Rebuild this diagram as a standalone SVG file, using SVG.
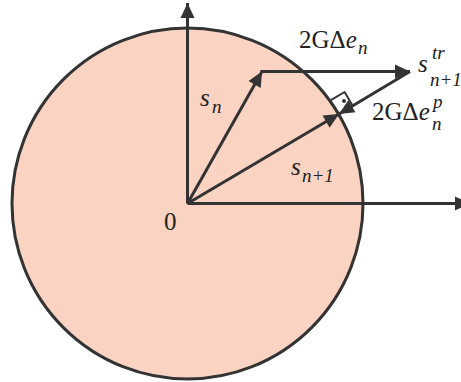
<svg xmlns="http://www.w3.org/2000/svg" width="461" height="382" viewBox="0 0 461 382">
<defs>
<marker id="ah" markerUnits="userSpaceOnUse" markerWidth="15" markerHeight="14" refX="15" refY="7" orient="auto" overflow="visible">
<path d="M0,0 L15,7 L0,14 Z" fill="#333333"/>
</marker>
<style>
.ln{stroke:#333333;stroke-width:3;fill:none}
.t{font-family:"Liberation Serif","Times New Roman",serif;fill:#222222;font-size:25px}
.i{font-style:italic}
.s{font-family:"Liberation Serif","Times New Roman",serif;font-size:19px;font-style:italic}
</style>
</defs>
<rect width="461" height="382" fill="#ffffff"/>
<g id="circle">
<circle cx="187.5" cy="203.5" r="175.5" fill="#fbd3c3" stroke="#333333" stroke-width="3"/>
</g>
<g id="connectors">
<line id="yaxis" class="ln" x1="187.5" y1="203.5" x2="187.5" y2="3" marker-end="url(#ah)"/>
<line id="xaxis" class="ln" x1="187.5" y1="203.5" x2="470" y2="203.5" marker-end="url(#ah)"/>
<line id="sn" class="ln" x1="187.5" y1="203.5" x2="262" y2="71.5" marker-end="url(#ah)"/>
<line id="de" class="ln" x1="260.5" y1="71.5" x2="410" y2="71.5" marker-end="url(#ah)"/>
<line id="dep" class="ln" x1="410" y1="71.5" x2="339" y2="114" marker-end="url(#ah)"/>
<line id="sn1" class="ln" x1="187.5" y1="203.5" x2="339" y2="114" marker-end="url(#ah)"/>
<polyline id="rightangle" points="330.9,100.2 344.6,92 352.8,105.9" fill="none" stroke="#333333" stroke-width="2"/>
<circle cx="344" cy="101" r="2" fill="#333333"/>
</g>
<g id="label-origin"><text class="t" x="164" y="230">0</text></g>
<g id="label-sn"><text class="t"><tspan class="i" x="200" y="106">s</tspan><tspan class="s" x="212" y="113">n</tspan></text></g>
<g id="label-sn1"><text class="t"><tspan class="i" x="291" y="175">s</tspan><tspan class="s" x="302" y="182">n+1</tspan></text></g>
<g id="label-de"><text class="t"><tspan x="299" y="48">2GΔ</tspan><tspan class="i">e</tspan><tspan class="s" x="358" y="54">n</tspan></text></g>
<g id="label-str"><text class="t"><tspan class="i" x="418" y="72">s</tspan><tspan class="s" x="432" y="59">tr</tspan><tspan class="s" x="430" y="86">n+1</tspan></text></g>
<g id="label-dep"><text class="t"><tspan x="372" y="120">2GΔ</tspan><tspan class="i">e</tspan><tspan class="s" x="433" y="108">p</tspan><tspan class="s" x="432" y="130">n</tspan></text></g>
</svg>
